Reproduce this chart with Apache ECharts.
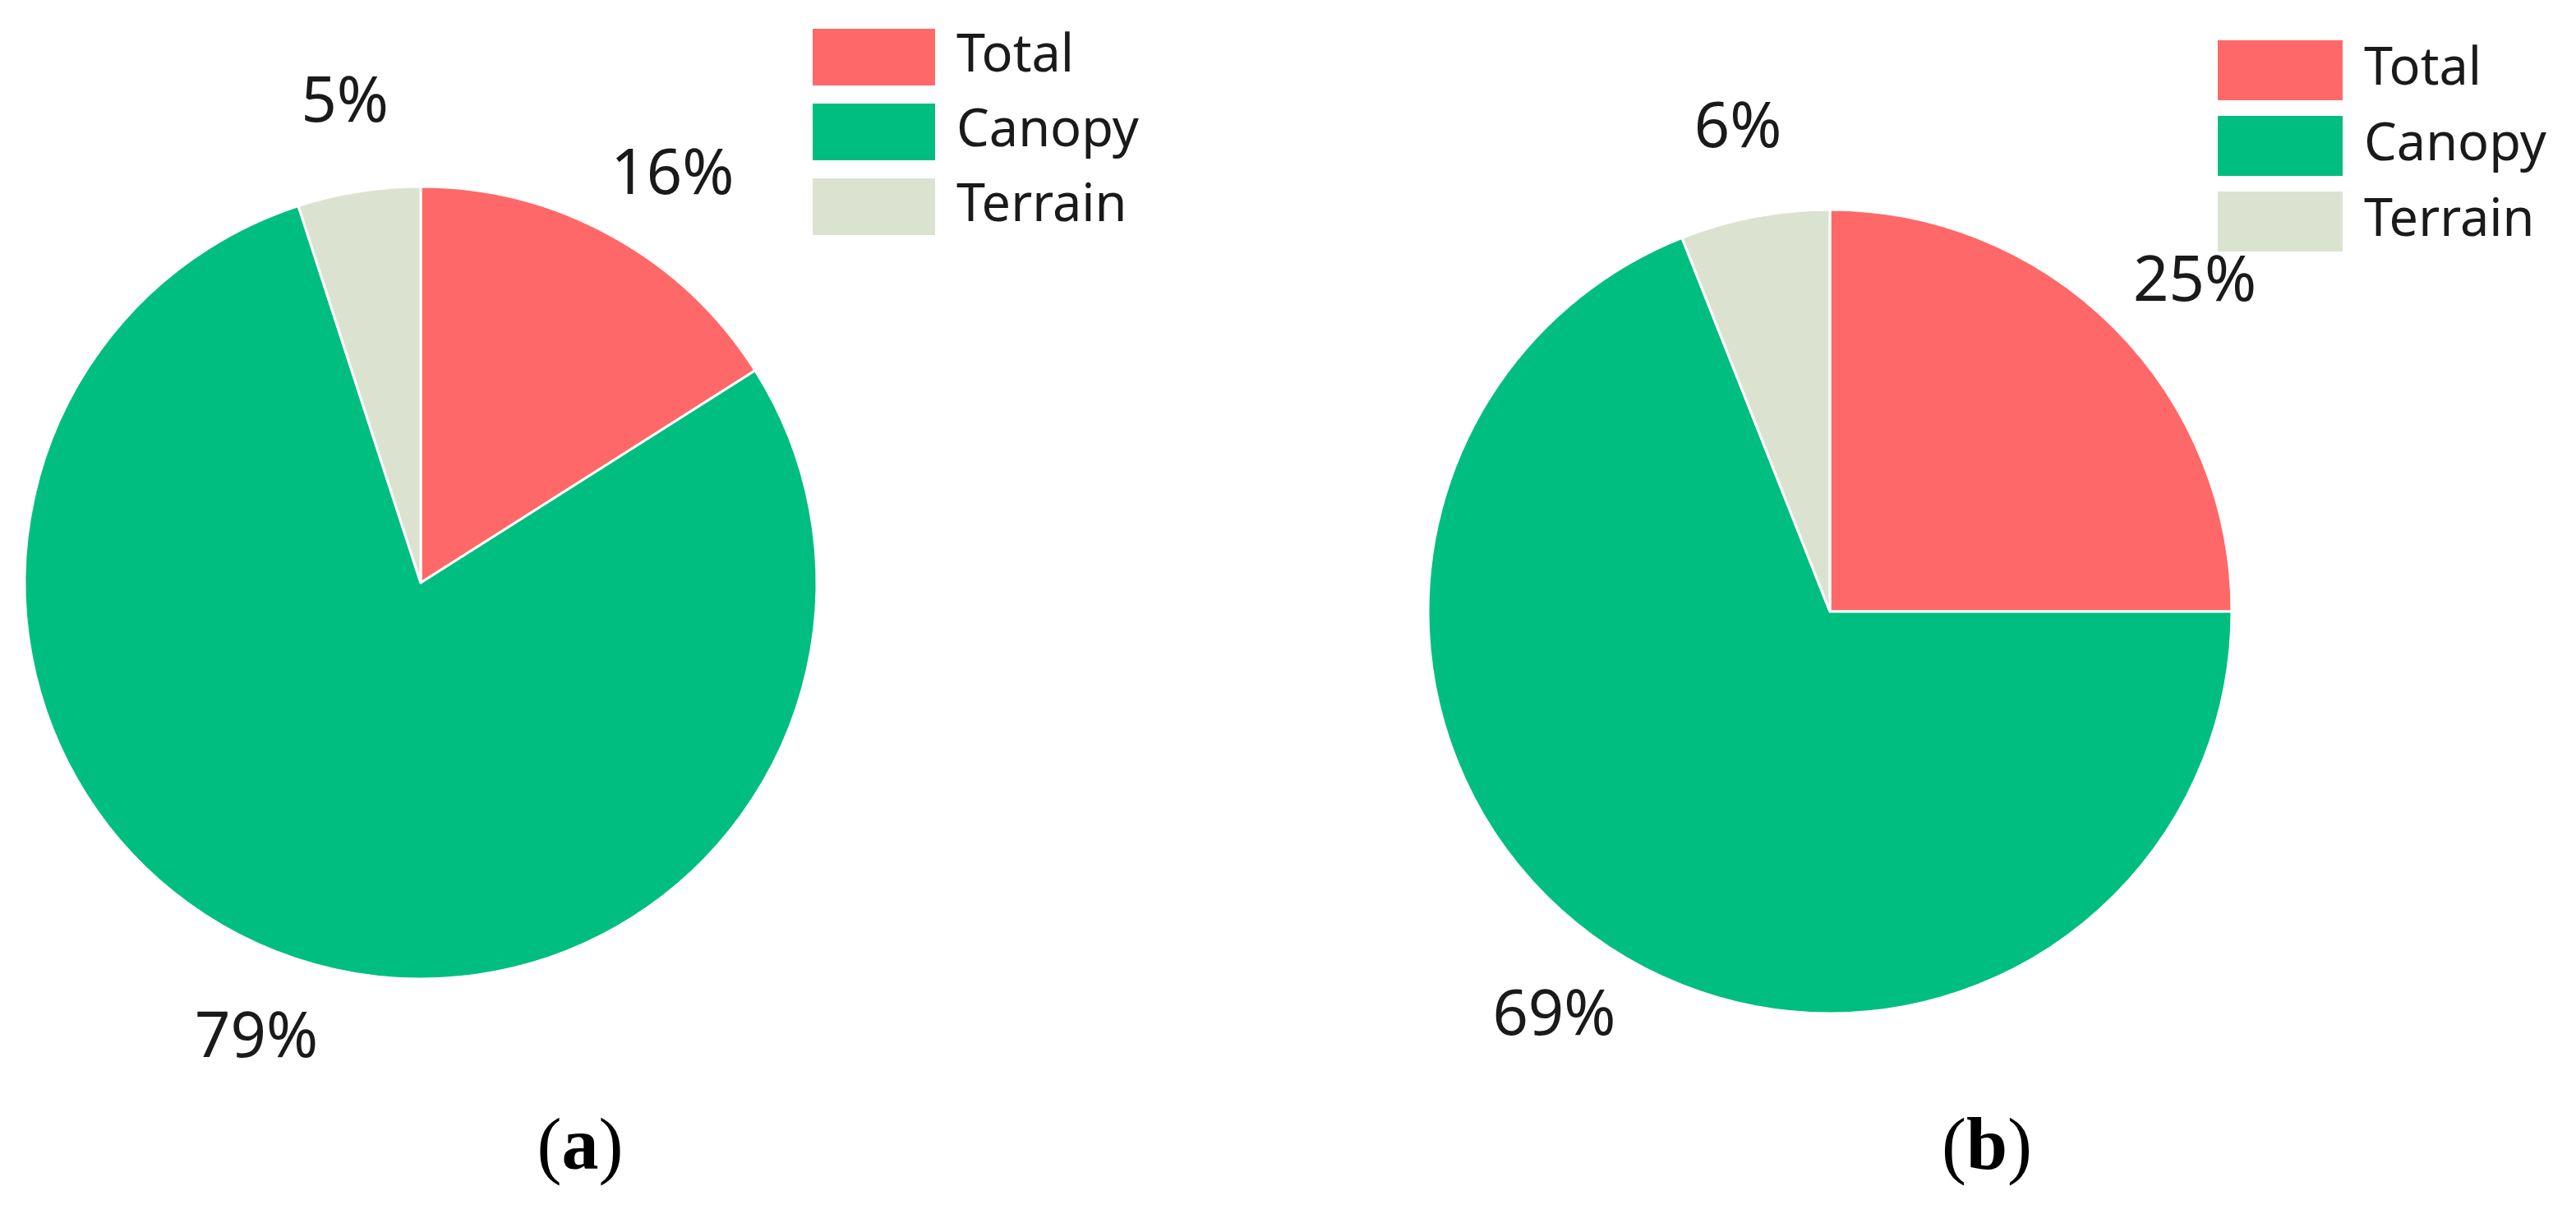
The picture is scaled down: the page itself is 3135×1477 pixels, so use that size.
<!DOCTYPE html>
<html>
<head>
<meta charset="utf-8">
<script src="https://cdn.jsdelivr.net/npm/echarts@6/dist/echarts.min.js"></script>
<style>
html,body{margin:0;padding:0;background:#fff;}
#chart{width:3135px;height:1477px;}
</style>
</head>
<body>
<div id="chart"></div>
<script>
const categories = ['Total', 'Canopy', 'Terrain'];
const valuesA = [16, 79, 5];
const valuesB = [25, 69, 6];
const panelLabels = ['a', 'b'];
const colors = ['#FF6868', '#00BE80', '#DCE2D0'];

const chart = echarts.init(document.getElementById('chart'), null, {renderer: 'canvas'});

function pieData(vals) {
  return categories.map((n, i) => ({name: n, value: vals[i]}));
}

const labelFont = 'Noto Sans';

function pieSeries(vals, center, radius) {
  return {
    type: 'pie',
    center: center,
    radius: radius,
    startAngle: 90,
    clockwise: true,
    avoidLabelOverlap: false,
    data: pieData(vals),
    itemStyle: {borderColor: '#ffffff', borderWidth: 3},
    label: {
      show: true,
      position: 'outside',
      formatter: '{c}%',
      fontFamily: labelFont,
      fontSize: 76,
      color: '#1a1a1a',
      distanceToLabelLine: 0
    },
    labelLine: {show: false, length: 108, length2: 0},
    labelLayout: function (p) {
      const rightSide = p.align === 'left';
      return {
        align: 'center',
        verticalAlign: 'middle',
        dx: rightSide ? 22 : 0,
        dy: rightSide ? 22 : 0
      };
    },
    emphasis: {disabled: true}
  };
}

function legendAt(left, top, w, h, gap) {
  return {
    orient: 'vertical',
    left: left,
    top: top,
    padding: 0,
    icon: 'rect',
    itemWidth: w,
    itemHeight: h,
    itemGap: gap,
    selectedMode: false,
    data: categories,
    textStyle: {
      fontFamily: labelFont,
      fontSize: 63,
      color: '#1a1a1a',
      padding: [0, 0, 0, 20]
    }
  };
}

function captionAt(x, letter) {
  return {
    text: '{p|(}{b|' + letter + '}{p|)}',
    left: x,
    top: 1399,
    textAlign: 'center',
    textVerticalAlign: 'middle',
    padding: 0,
    textStyle: {
      fontWeight: 'normal',
      rich: {
        p: {fontFamily: 'Liberation Serif', fontSize: 90, fontWeight: 'normal', color: '#000'},
        b: {fontFamily: 'Liberation Serif', fontSize: 90, fontWeight: 'bold', color: '#000'}
      }
    }
  };
}

chart.setOption({
  animation: false,
  backgroundColor: '#ffffff',
  color: colors,
  title: [captionAt(706, panelLabels[0]), captionAt(2418, panelLabels[1])],
  legend: [
    legendAt(987, 33, 151, 71, 18),
    legendAt(2697, 47, 154, 75, 15)
  ],
  series: [
    pieSeries(valuesA, [512, 709], 482),
    pieSeries(valuesB, [2227, 744], 489)
  ]
});
</script>
</body>
</html>
